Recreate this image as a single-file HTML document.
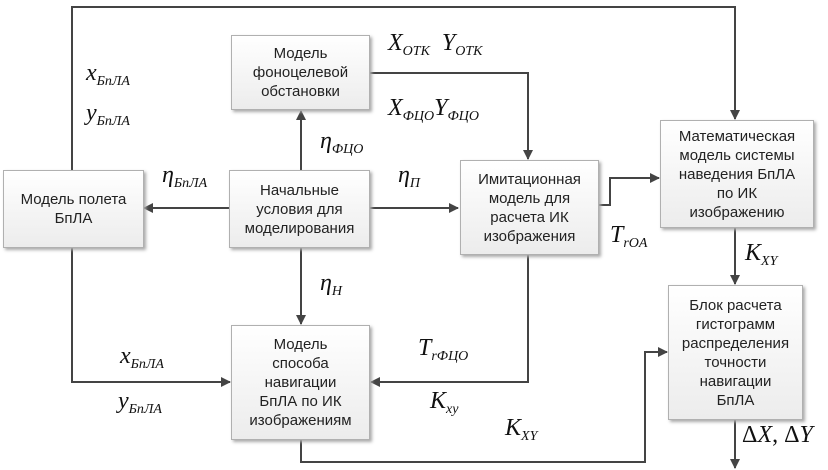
<!DOCTYPE html><html><head><meta charset="utf-8"><style>
body{margin:0;background:#fff}
.b{position:absolute;box-sizing:border-box;border:1px solid #b0b0b0;background:linear-gradient(#fff,#ececec);box-shadow:2px 2px 3px #aaa;font:15px "Liberation Sans","DejaVu Sans",sans-serif;color:#222;display:flex;align-items:center;justify-content:center;text-align:center;line-height:19px}
.m{position:absolute;font:italic 24px "Liberation Serif",serif;color:#111;white-space:nowrap}
.m sub{font-size:14px;vertical-align:-5px}
</style></head><body>
<div style="position:relative;width:828px;height:470px;overflow:hidden">
<svg width="828" height="470" style="position:absolute;left:0;top:0">
<defs><marker id="a" markerWidth="10" markerHeight="10" refX="9" refY="5" orient="auto" markerUnits="userSpaceOnUse"><path d="M0,0L10,5L0,10z" fill="#444"/></marker></defs>
<g stroke="#444" stroke-width="2" fill="none" marker-end="url(#a)">
<path d="M72,170V7H735V119"/>
<path d="M72,248V382H230"/>
<path d="M528,255V382H371"/>
<path d="M301,170V111"/>
<path d="M301,248V324"/>
<path d="M229,208H144"/>
<path d="M370,208H458"/>
<path d="M370,73H528V159"/>
<path d="M599,205H610V178H659"/>
<path d="M735,228V284"/>
<path d="M301,440V462H645V352H667"/>
<path d="M735,420V468"/>
</g></svg>
<div class="b" style="left:3px;top:170px;width:141px;height:78px">Модель полета<br>БпЛА</div>
<div class="b" style="left:229px;top:170px;width:141px;height:78px">Начальные<br>условия для<br>моделирования</div>
<div class="b" style="left:231px;top:35px;width:139px;height:75px">Модель<br>фоноцелевой<br>обстановки</div>
<div class="b" style="left:460px;top:160px;width:139px;height:95px">Имитационная<br>модель для<br>расчета ИК<br>изображения</div>
<div class="b" style="left:660px;top:120px;width:154px;height:108px">Математическая<br>модель системы<br>наведения БпЛА<br>по ИК<br>изображению</div>
<div class="b" style="left:231px;top:325px;width:139px;height:115px">Модель<br>способа<br>навигации<br>БпЛА по ИК<br>изображениям</div>
<div class="b" style="left:668px;top:285px;width:135px;height:135px">Блок расчета<br>гистограмм<br>распределения<br>точности<br>навигации<br>БпЛА</div>
<div class="m" style="left:86px;top:60px">x<sub>БпЛА</sub></div>
<div class="m" style="left:86px;top:100px">y<sub>БпЛА</sub></div>
<div class="m" style="left:162px;top:162px">η<sub>БпЛА</sub></div>
<div class="m" style="left:320px;top:128px">η<sub>ФЦО</sub></div>
<div class="m" style="left:398px;top:162px">η<sub>П</sub></div>
<div class="m" style="left:388px;top:30px">X<sub>ОТК</sub> &nbsp;Y<sub>ОТК</sub></div>
<div class="m" style="left:388px;top:95px">X<sub>ФЦО</sub>Y<sub>ФЦО</sub></div>
<div class="m" style="left:610px;top:222px">T<sub>rOA</sub></div>
<div class="m" style="left:745px;top:240px">K<sub>XY</sub></div>
<div class="m" style="left:320px;top:270px">η<sub>Н</sub></div>
<div class="m" style="left:120px;top:343px">x<sub>БпЛА</sub></div>
<div class="m" style="left:118px;top:388px">y<sub>БпЛА</sub></div>
<div class="m" style="left:418px;top:335px">T<sub>rФЦО</sub></div>
<div class="m" style="left:430px;top:388px">K<sub>xy</sub></div>
<div class="m" style="left:505px;top:415px">K<sub>XY</sub></div>
<div class="m" style="left:742px;top:422px;font-style:normal">Δ<i>X</i>, Δ<i>Y</i></div>
</div></body></html>
